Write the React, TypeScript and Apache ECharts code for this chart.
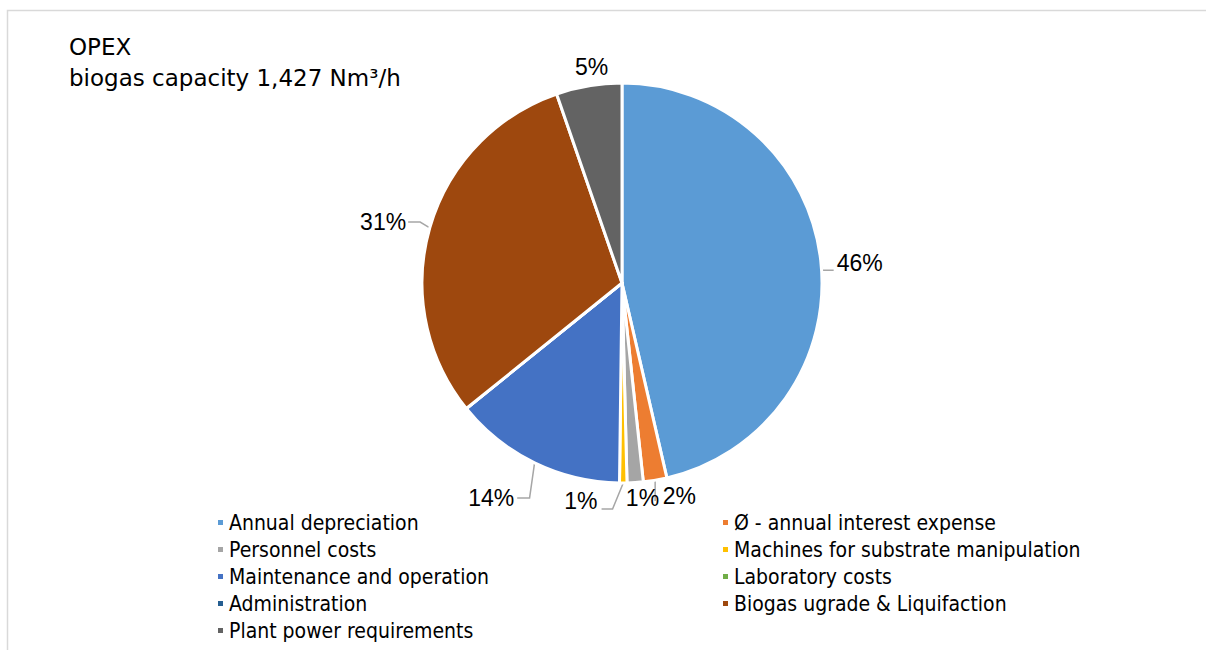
import React, { useEffect, useRef } from "react";
import * as echarts from "echarts";

// OPEX breakdown of a biogas plant (shares in percent)
const categories = [
  "Annual depreciation",
  "Ø - annual interest expense",
  "Personnel costs",
  "Machines for substrate manipulation",
  "Maintenance and operation",
  "Laboratory costs",
  "Administration",
  "Biogas ugrade & Liquifaction",
  "Plant power requirements",
];
const shares = [46.4, 1.9, 1.3, 0.6, 14.0, 0, 0, 30.5, 5.3];
const colors = [
  "#5B9BD5",
  "#ED7D31",
  "#A5A5A5",
  "#FFC000",
  "#4472C4",
  "#70AD47",
  "#255E91",
  "#9E480E",
  "#636363",
];
const titleLines = ["OPEX", "biogas capacity 1,427 Nm³/h"];

// nudges for the crowded outside labels, keyed by slice index
const labelNudge: Record<number, [number, number]> = {
  0: [-3, 4],
  1: [-3, 6],
  2: [-19, 5],
  3: [-68, 8],
  4: [-7, 26],
  7: [-5, -3],
  8: [30, -9],
};
// slices whose leader line is left out
const noLeader = new Set([2, 8]);

export default function App() {
  const ref = useRef<HTMLDivElement>(null);

  useEffect(() => {
    if (!ref.current) return;
    const chart = echarts.init(ref.current, null, { renderer: "svg" });

    const data = categories.map((name, i) => ({
      name,
      value: shares[i],
      itemStyle: { color: colors[i] },
      label: { show: shares[i] > 0 },
      labelLine: { show: shares[i] > 0 && !noLeader.has(i) },
    }));

    const leftNames = categories.filter((_, i) => i % 2 === 0);
    const rightNames = categories.filter((_, i) => i % 2 === 1);

    const legendBase = {
      orient: "vertical" as const,
      top: 509,
      height: 140,
      padding: 0,
      itemWidth: 7,
      itemHeight: 7,
      itemGap: 0,
      icon: "rect",
      selectedMode: false,
      textStyle: {
        fontFamily: "DejaVu Sans Condensed",
        fontSize: 21,
        lineHeight: 27,
        color: "#000",
        padding: [0, 0, 0, 0],
      },
    };

    // re-route the leader line of a moved label so it still meets the text
    const layoutLabel = (p: any) => {
      const n = labelNudge[p.dataIndex];
      if (!n) return {};
      const [dx, dy] = n;
      const r = p.labelRect;
      const pts = p.labelLinePoints;
      const out: any = { dx, dy };
      if (!pts || noLeader.has(p.dataIndex)) return out;
      const edge = pts[0];
      const left = r.x + dx;
      const right = r.x + r.width + dx;
      const cy = r.y + r.height / 2 + dy;
      if (p.dataIndex === 0) {
        const y = cy + 7;
        out.labelLinePoints = [edge, [edge[0] + 1, y], [left - 3, y]];
      } else if (p.dataIndex === 4) {
        const end = [right + 3, cy];
        out.labelLinePoints = [edge, [edge[0] - 5, cy], end];
      } else if (p.dataIndex === 3) {
        const y = cy + 8;
        out.labelLinePoints = [edge, [right + 15, y], [right + 4, y]];
      } else if (p.dataIndex === 1) {
        const y = cy + 5;
        out.labelLinePoints = [edge, [edge[0], y], [edge[0], y]];
      } else {
        out.labelLinePoints = [
          edge,
          [pts[1][0], pts[1][1] + dy],
          [left < edge[0] ? right + 2 : left - 2, cy],
        ];
      }
      return out;
    };

    chart.setOption({
      animation: false,
      backgroundColor: "#fff",
      title: {
        text: titleLines.join("\n"),
        left: 64,
        top: 26,
        textStyle: {
          fontFamily: "DejaVu Sans",
          fontSize: 23,
          lineHeight: 31,
          fontWeight: "normal",
          color: "#000",
        },
      },
      graphic: [
        {
          type: "rect",
          shape: { x: 7.5, y: 10.5, width: 1220, height: 660 },
          style: { fill: "none", stroke: "#d9d9d9", lineWidth: 1.5 },
          silent: true,
        },
      ],
      legend: [
        { ...legendBase, left: 216, data: leftNames },
        { ...legendBase, left: 721, data: rightNames },
      ],
      series: [
        {
          type: "pie",
          center: [622, 283],
          radius: 200,
          startAngle: 90,
          clockwise: true,
          avoidLabelOverlap: false,
          stillShowZeroSum: true,
          itemStyle: { borderColor: "#fff", borderWidth: 3 },
          label: {
            position: "outside",
            fontFamily: "Liberation Sans",
            fontSize: 23,
            color: "#000",
            distanceToLabelLine: 3,
            formatter: (p: any) => `${Math.round(p.value)}%`,
          },
          labelLine: {
            length: 10,
            length2: 6,
            lineStyle: { color: "#a6a6a6", width: 1.5 },
          },
          labelLayout: layoutLabel,
          data,
        },
      ],
    });

    return () => chart.dispose();
  }, []);

  return (
    <div
      ref={ref}
      style={{ position: "fixed", left: 0, top: 0, width: 1206, height: 650 }}
    />
  );
}
